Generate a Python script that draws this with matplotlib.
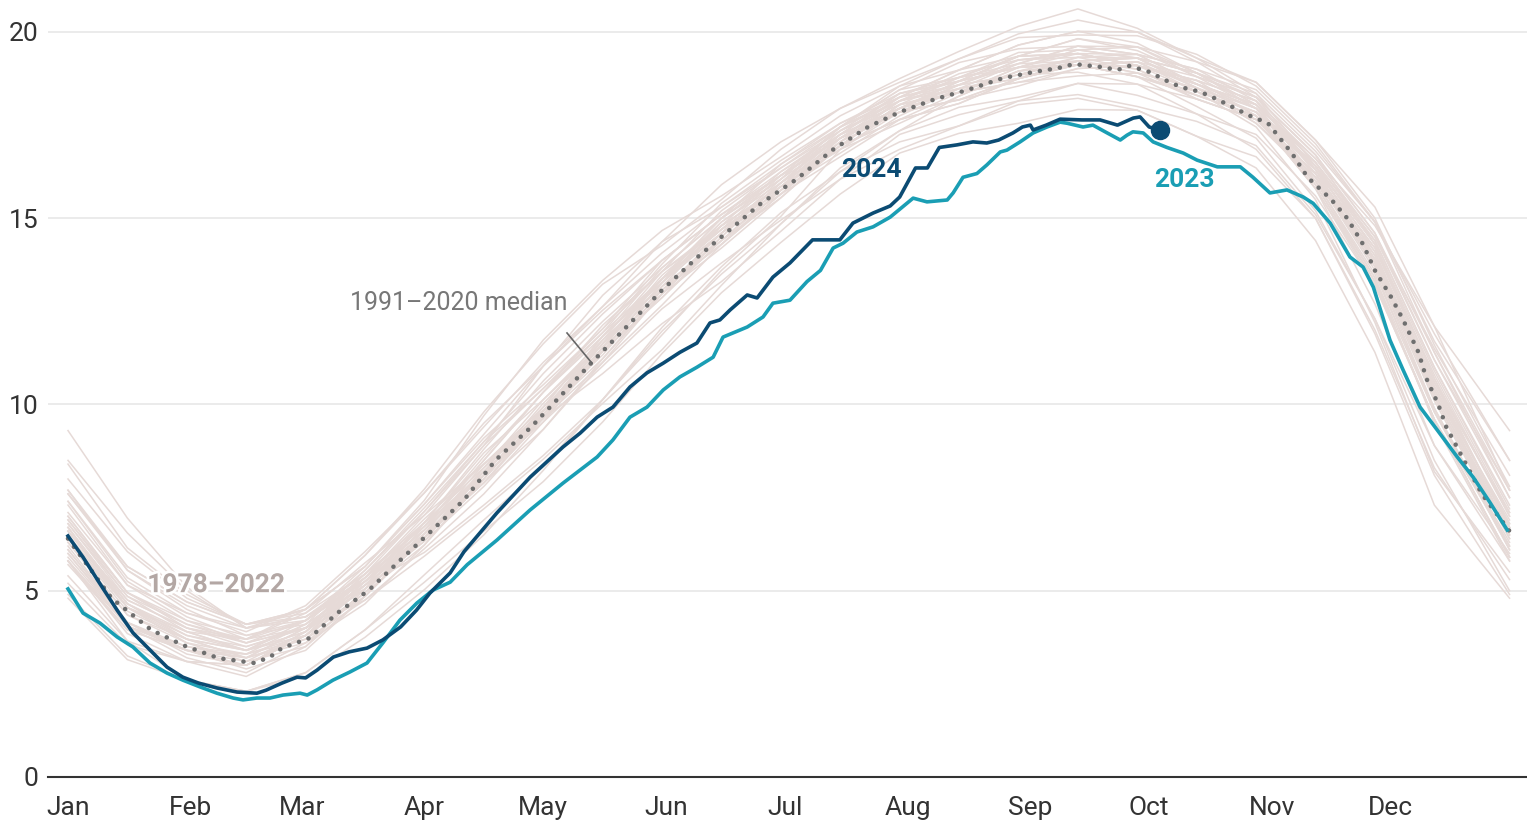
import matplotlib
matplotlib.use('Agg')
import matplotlib.pyplot as plt
import matplotlib.patheffects as pe
import numpy as np

plt.rcParams['font.family'] = ['Roboto', 'DejaVu Sans']

# month tick positions (day of year) and labels
month_days = [0, 31, 59, 90, 120, 151, 181, 212, 243, 273, 304, 334]
month_labels = ['Jan', 'Feb', 'Mar', 'Apr', 'May', 'Jun', 'Jul', 'Aug', 'Sep', 'Oct', 'Nov', 'Dec']
y_ticks = [0, 5, 10, 15, 20]

# 1991-2020 median (million sq km)
median_days = [0, 11, 21, 29, 38, 47, 51, 54, 61, 68, 76, 84, 92, 100, 108, 117, 125, 132, 142, 150,
               159, 167, 175, 184, 193, 202, 210, 219, 227, 236, 244, 250, 254, 261, 265, 268, 273, 277,
               281, 286, 290, 294, 298, 303, 309, 313, 319, 323, 327, 330, 334, 337, 341, 343, 346, 348,
               351, 354, 357, 360, 364]
median_vals = [6.4, 4.8, 3.95, 3.54, 3.19, 3.06, 3.22, 3.46, 3.73, 4.4, 5.02, 5.83, 6.63, 7.44, 8.51, 9.4,
               10.3, 11.1, 12.19, 13.07, 13.96, 14.68, 15.4, 16.05, 16.83, 17.45, 17.85, 18.2, 18.44, 18.76,
               18.93, 19.03, 19.14, 19.06, 18.98, 19.09, 18.93, 18.71, 18.52, 18.39, 18.2, 17.99, 17.77,
               17.55, 16.75, 16.1, 15.5, 15.0, 14.3, 13.6, 12.9, 12.3, 11.4, 10.7, 10.0, 9.4, 8.8, 8.2,
               7.6, 7.17, 6.6]

# 2023
days_2023 = [0, 3.8, 8.1, 12.4, 16.4, 20.7, 25, 29, 33.3, 37.6, 41.7, 44.2, 47.7, 51, 54.3, 58.6, 60.4,
             62.9, 66.9, 71.2, 75.5, 79.5, 83.8, 88.1, 92.2, 96.5, 100.8, 108.3, 116.7, 125, 133.6, 137.6,
             141.9, 146.2, 150.3, 154.5, 158.8, 162.9, 165.4, 171.5, 175.5, 178, 182.3, 186.6, 190, 193.2,
             195.7, 199.2, 203.3, 207.6, 213.4, 216.9, 222, 223.5, 226, 229.5, 232, 235.4, 237.1, 240.4,
             243.7, 247.2, 250.5, 252.3, 256.3, 258.8, 262.4, 265.7, 267.4, 268.9, 271.5, 274, 277.5,
             281.6, 285.1, 290.2, 294.2, 296, 299.2, 303.5, 307.8, 311.9, 314.4, 318.7, 323.7, 327,
             329.6, 333.8, 337.1, 341.4, 345.7, 350.8, 354.8, 359.1, 363.4]
vals_2023 = [5.05, 4.4, 4.13, 3.76, 3.49, 3.06, 2.79, 2.6, 2.42, 2.25, 2.12, 2.07, 2.12, 2.12, 2.2, 2.25, 2.2,
             2.34, 2.6, 2.82, 3.06, 3.6, 4.21, 4.67, 5.02, 5.23, 5.7, 6.36, 7.17, 7.89, 8.59, 9.05,
             9.66, 9.93, 10.39, 10.74, 11.0, 11.27, 11.81, 12.08, 12.35, 12.72, 12.8, 13.3, 13.6, 14.2,
             14.33, 14.63, 14.77, 15.03, 15.54, 15.44, 15.49, 15.68, 16.1, 16.2, 16.43, 16.78, 16.83, 17.05,
             17.29, 17.45, 17.58, 17.55, 17.45, 17.5, 17.29, 17.1, 17.23, 17.32, 17.29, 17.05, 16.9,
             16.75, 16.56, 16.38, 16.38, 16.38, 16.1, 15.68, 15.76, 15.57, 15.4, 14.87, 13.96, 13.69,
             13.15, 11.73, 10.93, 9.93, 9.32, 8.59, 8.05, 7.36, 6.63]

# 2024 (through early October)
days_2024 = [0, 3.8, 8, 12.4, 16.4, 20.7, 25, 29, 33, 37.6, 42.7, 47.7, 50, 54, 57.8, 60, 62.9, 67, 71,
             75.5, 79.5, 84, 88, 91.4, 96.5, 100, 108.3, 116.7, 125, 129.3, 133.6, 137.6, 141.9, 146.2,
             150.3, 154.5, 158.8, 162.1, 164.6, 167.2, 171.5, 174, 178, 182.3, 188, 191.7, 194.9, 198.2,
             203.3, 207.6, 210, 214, 217, 220, 224.5, 228.5, 232, 235, 238.6, 241, 243, 243.7, 247, 250.5,
             256, 260.6, 265, 269, 270.7, 273, 275.8]
vals_2024 = [6.47, 5.9, 5.2, 4.48, 3.87, 3.41, 2.95, 2.68, 2.52, 2.39, 2.28, 2.25, 2.33, 2.52, 2.68, 2.66,
             2.87, 3.22, 3.36, 3.46, 3.68, 4.03, 4.48, 4.94, 5.48, 6.05, 7.09, 8.05, 8.86, 9.23, 9.66, 9.93,
             10.47, 10.85, 11.11, 11.4, 11.65, 12.19, 12.27, 12.54, 12.94, 12.86, 13.42, 13.8, 14.42, 14.42,
             14.42, 14.87, 15.14, 15.33, 15.57, 16.35, 16.35, 16.9, 16.97, 17.05, 17.02, 17.1, 17.29, 17.45,
             17.5, 17.37, 17.5, 17.66, 17.64, 17.64, 17.5, 17.69, 17.72, 17.45, 17.37]

# 1978-2022 years: sampled every ~15 days, as departures from the median at those days
bg_days = [0, 15, 30, 45, 60, 75, 90, 105, 120, 135, 150, 165, 180, 195, 210, 225, 240, 255, 270,
           285, 300, 315, 330, 345, 364]
bg_median = [6.4, 4.35, 3.5, 3.1, 3.7, 4.95, 6.43, 8.1, 9.73, 11.43, 13.07, 14.5, 15.75, 16.95, 17.85,
             18.38, 18.85, 19.12, 19.0, 18.4, 17.65, 15.9, 13.6, 10.1, 6.5]
bg_anom = {
    1979: [0.3, 0.2, 0.1, 0.0, 0.2, 0.3, 0.1, -0.2, -0.4, -0.3, -0.1, 0.0, 0.2, 0.1, 0.0, -0.2, -0.1, 0.0, 0.2, 0.1, -0.1, 0.2, 0.3, 0.2, 0.1],
    1980: [0.4, 0.5, 0.4, 0.3, 0.4, 0.2, -0.4, -0.8, -1.1, -1.3, -1.2, -0.9, -0.7, -0.1, 0.1, 0.0, -0.2, -0.3, -0.1, 0.1, 0.3, 0.5, 0.4, 0.5, 0.6],
    1981: [0.6, 0.6, 0.5, 0.4, 0.3, 0.4, 0.6, 0.8, 0.7, 0.5, 0.3, 0.2, 0.1, 0.3, 0.4, 0.3, 0.2, 0.1, -0.1, -0.2, 0.0, 0.1, -0.2, -0.6, -0.7],
    1982: [-0.6, -0.5, -0.4, -0.4, -0.2, 0.1, 0.3, 0.5, 0.6, 0.4, 0.2, 0.3, 0.1, -0.1, 0.0, 0.2, 0.4, 0.3, 0.1, 0.2, 0.4, 0.6, 0.8, 0.9, 0.8],
    1983: [0.9, 0.8, 0.7, 0.5, 0.5, 0.3, 0.0, -0.1, 0.1, 0.2, 0.0, -0.2, -0.1, 0.1, 0.3, 0.2, 0.3, 0.5, 0.4, 0.2, 0.3, 0.5, 0.7, 0.6, 0.2],
    1984: [0.2, 0.4, 0.5, 0.6, 0.7, 0.8, 0.6, 0.3, 0.0, -0.2, -0.1, 0.1, 0.2, 0.0, -0.2, -0.3, -0.1, 0.1, 0.0, -0.1, 0.1, 0.0, -0.3, -0.5, -0.6],
    1985: [-0.5, -0.3, -0.1, 0.1, 0.3, 0.2, 0.0, -0.2, -0.1, 0.1, 0.3, 0.4, 0.2, 0.3, 0.5, 0.4, 0.6, 0.4, 0.3, 0.5, 0.7, 0.9, 1.3, 1.8, 2.0],
    1986: [2.1, 2.2, 1.5, 0.9, 0.6, 0.5, 0.3, 0.4, 0.6, 0.7, 0.5, 0.2, 0.0, -0.2, -0.1, 0.1, 0.0, -0.2, -0.4, -0.2, 0.0, 0.3, 0.5, 0.4, 0.3],
    1987: [0.3, 0.3, 0.2, 0.3, 0.5, 0.6, 0.8, 0.9, 0.7, 0.6, 0.8, 0.6, 0.4, 0.2, 0.1, 0.3, 0.5, 0.3, 0.1, 0.0, 0.2, 0.4, 0.6, 0.5, 0.2],
    1988: [0.1, 0.2, 0.3, 0.4, 0.3, 0.1, -0.1, -0.3, -0.2, 0.0, 0.2, 0.1, 0.3, 0.5, 0.4, 0.2, 0.0, 0.1, 0.3, 0.5, 0.4, 0.2, 0.0, -0.3, -0.4],
    1989: [-0.4, -0.3, -0.3, -0.3, -0.1, 0.0, 0.2, 0.1, -0.1, -0.3, -0.4, -0.2, 0.0, 0.2, 0.0, -0.2, -0.3, -0.1, 0.1, 0.3, 0.1, -0.1, -0.9, -1.2, -0.7],
    1990: [-0.7, -0.4, -0.1, 0.2, 0.0, -0.2, -0.3, -0.5, -0.4, -0.2, 0.0, 0.1, -0.1, -0.3, -0.2, 0.0, 0.2, 0.4, 0.3, 0.1, -0.1, 0.1, 0.3, 0.4, 0.3],
    1991: [0.3, 0.3, 0.3, 0.3, 0.1, -0.1, 0.0, 0.2, 0.4, 0.3, 0.1, -0.1, -0.2, 0.0, 0.2, 0.1, -0.1, 0.0, 0.2, 0.0, -0.2, -0.4, -1.4, -1.9, -1.0],
    1992: [-1.0, -0.7, -0.4, -0.1, 0.2, 0.4, 0.5, 0.3, 0.1, -0.1, 0.1, 0.3, 0.5, 0.4, 0.2, 0.0, 0.1, 0.2, 0.0, -0.2, 0.0, 0.2, 0.4, 0.3, 0.2],
    1993: [0.2, 0.2, 0.2, 0.1, -0.1, -0.3, -0.2, 0.0, 0.2, 0.4, 0.6, 0.5, 0.3, 0.2, 0.4, 0.6, 0.5, 0.3, 0.1, 0.2, 0.3, 0.1, -0.1, -0.2, -0.3],
    1994: [-0.3, -0.2, -0.1, -0.2, -0.3, -0.1, 0.1, 0.3, 0.2, 0.0, -0.2, 0.0, 0.2, 0.3, 0.1, 0.3, 0.5, 0.7, 0.5, 0.4, 0.6, 0.8, 1.0, 1.3, 1.2],
    1995: [1.3, 1.2, 1.0, 0.7, 0.4, 0.2, 0.0, -0.2, 0.0, 0.2, 0.4, 0.3, 0.1, 0.0, 0.2, 0.4, 0.3, 0.1, -0.1, 0.1, 0.2, 0.0, -0.2, -0.3, -0.2],
    1996: [-0.2, -0.2, -0.2, -0.1, 0.1, 0.3, 0.4, 0.2, 0.0, 0.1, 0.3, 0.2, 0.0, 0.1, 0.3, 0.2, 0.0, 0.2, 0.4, 0.6, 0.5, 0.3, 0.1, 0.0, -0.1],
    1997: [-0.1, 0.0, 0.1, 0.2, 0.1, 0.0, -0.2, -0.1, 0.1, 0.0, -0.2, -0.1, 0.1, -0.1, -0.3, -0.1, 0.1, 0.0, -0.2, -0.1, 0.1, 0.3, 0.2, 0.1, 0.0],
    1998: [0.0, 0.1, 0.2, 0.3, 0.2, 0.4, 0.3, 0.1, -0.1, 0.1, 0.3, 0.5, 0.4, 0.2, 0.3, 0.1, -0.1, 0.1, 0.3, 0.2, 0.4, 0.7, 1.2, 2.0, 2.8],
    1999: [2.9, 2.6, 1.6, 0.9, 0.5, 0.4, 0.2, 0.0, 0.2, 0.4, 0.3, 0.1, 0.2, 0.4, 0.3, 0.5, 0.4, 0.2, 0.3, 0.1, 0.0, 0.2, 0.1, -0.2, -0.4],
    2000: [-0.4, -0.2, 0.0, 0.2, 0.4, 0.6, 0.7, 0.9, 1.1, 1.0, 0.8, 0.6, 0.5, 0.3, 0.1, 0.2, 0.4, 0.3, 0.1, 0.3, 0.5, 0.4, 0.2, 0.3, 0.4],
    2001: [0.4, 0.4, 0.5, 0.5, 0.3, 0.1, 0.0, -0.2, -0.1, 0.1, -0.1, -0.3, -0.2, 0.0, 0.2, 0.0, -0.2, -0.1, 0.1, 0.3, 0.5, 0.7, 0.9, 1.1, 1.0],
    2002: [1.0, 0.9, 0.8, 0.6, 0.3, -0.2, -0.5, -0.9, -1.2, -1.4, -1.6, -1.3, -0.9, -0.6, -0.5, -0.1, 0.1, 0.0, -0.2, 0.0, 0.2, 0.5, 0.8, 0.9, 0.7],
    2003: [0.7, 0.8, 0.9, 0.9, 0.8, 0.7, 0.9, 1.0, 0.8, 0.6, 0.5, 0.7, 0.6, 0.4, 0.5, 0.3, 0.2, 0.4, 0.6, 0.5, 0.3, 0.4, 0.6, 0.7, 0.5],
    2004: [0.5, 0.6, 0.7, 0.7, 0.5, 0.3, 0.4, 0.6, 0.4, 0.2, 0.3, 0.5, 0.4, 0.2, 0.0, 0.1, 0.3, 0.5, 0.4, 0.2, 0.1, -0.1, -0.3, -0.5, -0.6],
    2005: [-0.6, -0.3, 0.0, 0.1, 0.3, 0.5, 0.4, 0.2, 0.1, 0.3, 0.5, 0.3, 0.1, 0.2, 0.0, -0.2, -0.1, 0.1, 0.3, 0.5, 0.4, 0.6, 0.9, 1.4, 1.6],
    2006: [1.6, 1.7, 1.3, 1.0, 0.7, 0.5, 0.3, 0.1, -0.1, 0.0, 0.2, 0.4, 0.3, 0.5, 0.7, 0.6, 0.8, 0.9, 0.7, 0.5, 0.6, 0.4, 0.2, 0.1, -0.1],
    2007: [-0.1, 0.0, 0.2, 0.1, 0.0, 0.2, 0.4, 0.7, 0.9, 0.8, 0.6, 0.5, 0.7, 0.6, 0.4, 0.6, 0.8, 0.9, 1.0, 0.8, 0.6, 0.8, 1.0, 1.1, 1.2],
    2008: [1.2, 1.3, 1.2, 1.0, 0.8, 0.7, 0.9, 1.1, 1.3, 1.2, 1.0, 0.8, 0.6, 0.5, 0.3, 0.4, 0.5, 0.3, 0.4, 0.6, 0.8, 1.0, 1.3, 1.6, 2.0],
    2009: [2.0, 1.8, 1.4, 1.0, 0.6, 0.4, 0.2, 0.4, 0.6, 0.5, 0.7, 0.9, 0.8, 0.6, 0.5, 0.3, 0.5, 0.7, 0.6, 0.4, 0.6, 0.8, 0.7, 0.6, 0.5],
    2010: [0.5, 0.5, 0.6, 0.5, 0.3, 0.5, 0.7, 0.8, 1.3, 1.5, 1.3, 0.8, 0.7, 0.5, 0.6, 0.8, 0.7, 0.5, 0.6, 0.8, 1.0, 1.2, 1.7, 2.0, 1.2],
    2011: [1.2, 1.2, 1.1, 0.9, 0.6, 0.3, 0.1, -0.1, 0.1, 0.3, 0.1, -0.1, 0.0, 0.2, 0.1, 0.3, 0.2, 0.0, 0.2, 0.4, 0.3, 0.5, 0.7, 0.8, 0.6],
    2012: [0.6, 0.6, 0.6, 0.6, 0.5, 0.7, 1.0, 1.6, 2.0, 1.9, 1.6, 1.1, 0.9, 0.8, 0.7, 0.9, 1.0, 0.8, 0.9, 1.0, 0.9, 1.1, 1.3, 1.3, 1.0],
    2013: [1.0, 1.0, 0.9, 0.8, 0.9, 1.1, 1.2, 1.3, 1.4, 1.2, 1.3, 1.4, 1.3, 1.0, 0.8, 0.9, 1.1, 1.2, 1.0, 0.9, 1.0, 1.2, 1.4, 1.5, 1.3],
    2014: [1.3, 1.3, 1.2, 1.0, 0.8, 1.0, 1.3, 1.7, 1.9, 1.8, 1.2, 1.0, 1.1, 1.0, 0.9, 1.1, 1.3, 1.5, 1.1, 0.9, 0.7, 0.5, 0.3, 0.2, 0.0],
    2015: [0.0, 0.2, 0.4, 0.6, 0.8, 1.0, 1.2, 1.4, 1.3, 1.1, 0.8, 0.6, 0.4, 0.5, 0.6, 0.4, 0.2, 0.0, -0.2, -0.1, 0.1, -0.1, -0.4, -0.5, -0.3],
    2016: [-0.3, -0.2, -0.1, -0.1, 0.1, 0.3, 0.2, 0.0, -0.2, -0.4, -0.5, -0.7, -0.8, -0.9, -1.0, -0.9, -0.8, -0.9, -1.1, -1.2, -1.3, -1.5, -2.2, -2.8, -1.7],
    2017: [-1.6, -1.2, -0.9, -0.8, -1.0, -1.2, -1.4, -1.6, -1.5, -1.3, -1.1, -1.0, -0.9, -0.7, -0.8, -0.9, -0.7, -0.8, -1.0, -0.8, -0.7, -0.8, -1.3, -1.2, -0.5],
    2018: [-0.6, -0.7, -0.9, -0.8, -0.9, -1.0, -1.0, -1.2, -1.4, -1.3, -1.0, -0.8, -0.6, -0.7, -0.5, -0.4, -0.6, -0.5, -0.7, -0.6, -0.4, -0.3, -0.4, -0.5, -0.6],
    2019: [-0.6, -0.4, -0.1, 0.0, -0.2, -0.1, 0.0, 0.1, -0.1, -0.6, -0.9, -1.2, -1.1, -0.9, -0.6, -0.6, -0.7, -0.5, -0.4, -0.6, -0.8, -0.9, -1.6, -1.8, -1.2],
    2020: [-1.2, -0.8, -0.4, -0.1, 0.1, 0.2, 0.1, -0.1, 0.0, 0.2, 0.3, 0.2, 0.4, 0.3, 0.1, 0.0, 0.2, 0.3, 0.1, 0.2, 0.4, 0.6, 0.5, 0.3, 0.1],
    2021: [0.2, 0.3, 0.4, 0.3, 0.2, 0.1, -0.1, 0.1, 0.3, 0.2, 0.0, -0.2, -0.1, 0.0, -0.2, -0.3, -0.1, 0.0, -0.2, -0.4, -0.5, -0.7, -1.3, -1.6, -1.5],
    2022: [-1.5, -1.1, -0.9, -0.8, -0.9, -1.0, -1.2, -1.5, -1.8, -1.9, -1.7, -1.5, -1.4, -1.3, -1.1, -1.1, -1.3, -1.2, -1.1, -1.2, -1.0, -0.9, -1.7, -2.0, -1.6],
}

c_bg = '#e6dad7'
c_bg_label = '#b3a7a4'
c_median = '#6f6f6f'
c_2023 = '#1a9eb4'
c_2024 = '#0b4b73'

fig = plt.figure(figsize=(15.27, 8.25), dpi=100)
ax = fig.add_axes([48 / 1527, 1 - 777 / 825, 1 - 48 / 1527, 777 / 825])

base = np.array(bg_median)
for yr, anom in bg_anom.items():
    ax.plot(bg_days, base + np.array(anom), color=c_bg, lw=1.1, zorder=2)

ax.plot(median_days, median_vals, color=c_median, lw=3.3, linestyle=(0, (0.01, 2.2)),
        dash_capstyle='round', zorder=3)
ax.plot(days_2023, vals_2023, color=c_2023, lw=2.6, zorder=4, solid_joinstyle='round')
ax.plot(days_2024, vals_2024, color=c_2024, lw=2.6, zorder=5, solid_joinstyle='round')
ax.plot(days_2024[-1], vals_2024[-1], 'o', color=c_2024, ms=13, zorder=6)

halo = [pe.withStroke(linewidth=4, foreground='white')]
ax.text(37.4, 5.15, '1978–2022', color=c_bg_label, fontsize=19, fontweight='bold',
        ha='center', va='center', zorder=7, path_effects=halo)
ax.text(202.8, 16.3, '2024', color=c_2024, fontsize=19, fontweight='bold',
        ha='center', va='center', zorder=7)
ax.text(281.8, 16.03, '2023', color=c_2023, fontsize=19, fontweight='bold',
        ha='center', va='center', zorder=7)
ax.text(98.7, 12.72, '1991–2020 median', color='#777777', fontsize=18,
        ha='center', va='center', zorder=7)
ax.plot([126, 132.3], [11.92, 11.11], color='#666666', lw=1.2, zorder=7)

ax.set_xlim(-5.05, 368.4)
ax.set_ylim(0, 777 / 37.25)
ax.set_xticks(month_days)
ax.set_xticklabels(month_labels)
ax.set_yticks(y_ticks)
ax.set_yticklabels([str(v) for v in y_ticks])
ax.tick_params(axis='x', length=0, pad=14, labelsize=19, labelcolor='#333333')
ax.tick_params(axis='y', length=0, pad=7, labelsize=19, labelcolor='#333333')

ax.grid(axis='y', color='#e6e6e6', lw=1.1, zorder=0)
ax.set_axisbelow(True)
for s in ['top', 'right', 'left']:
    ax.spines[s].set_visible(False)
ax.spines['bottom'].set_color('#333333')
ax.spines['bottom'].set_linewidth(1.5)
ax.spines['bottom'].set_zorder(8)

fig.savefig('out.png', dpi=100)
